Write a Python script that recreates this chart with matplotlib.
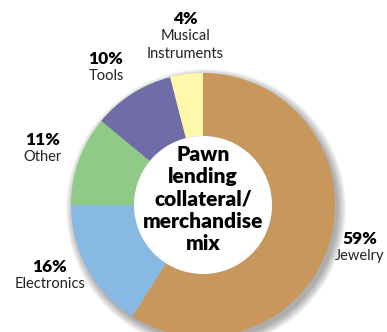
import matplotlib
matplotlib.use('Agg')
import matplotlib.pyplot as plt
from matplotlib.patches import Circle

# pawn lending collateral mix (percent)
categories = ['Jewelry', 'Electronics', 'Other', 'Tools', 'Musical\nInstruments']
shares = [59, 16, 11, 10, 4]
colors = ['#C8975C', '#88B9E2', '#8FCA86', '#6F6CA8', '#FFF8AA']

# label positions in pixels (x, y from top)
label_pos = [(360, 239), (50, 267), (43, 140), (106, 59), (185, 19)]

W, H = 387, 332
cx, cy, R, r_in = 203, H - 205, 132, 69

plt.rcParams['font.family'] = ['Lato', 'DejaVu Sans']

fig = plt.figure(figsize=(W / 100, H / 100), dpi=100)
ax = fig.add_axes([0, 0, 1, 1])

# soft drop shadow behind ring
for i in range(10):
    ax.add_patch(Circle((cx + 3, cy - 4), R + 0.9 * i, color='black',
                        alpha=0.035, lw=0, zorder=0))

ax.pie(shares, colors=colors, startangle=90, counterclock=False,
       center=(cx, cy), radius=R,
       wedgeprops=dict(width=R - r_in, linewidth=0), frame=False)
# white hole
ax.add_patch(Circle((cx, cy), r_in, color='white', lw=0, zorder=3))

ax.text(cx, cy + 6, 'Pawn\nlending\ncollateral/\nmerchandise\nmix',
        ha='center', va='center', fontsize=15, fontweight='heavy',
        linespacing=1.2, color='black', zorder=5)

for cat, val, (x, y) in zip(categories, shares, label_pos):
    ax.text(x, H - y, f'{val}%', ha='center', va='center', fontsize=12.5,
            fontweight='heavy', color='black')
    ax.text(x, H - y - 10, cat, ha='center', va='top', fontsize=10.5,
            color='#222222', linespacing=1.4)

ax.set_xlim(0, W)
ax.set_ylim(0, H)
ax.set_aspect('auto')
ax.axis('off')

fig.savefig('out.png', dpi=100, facecolor='white')
